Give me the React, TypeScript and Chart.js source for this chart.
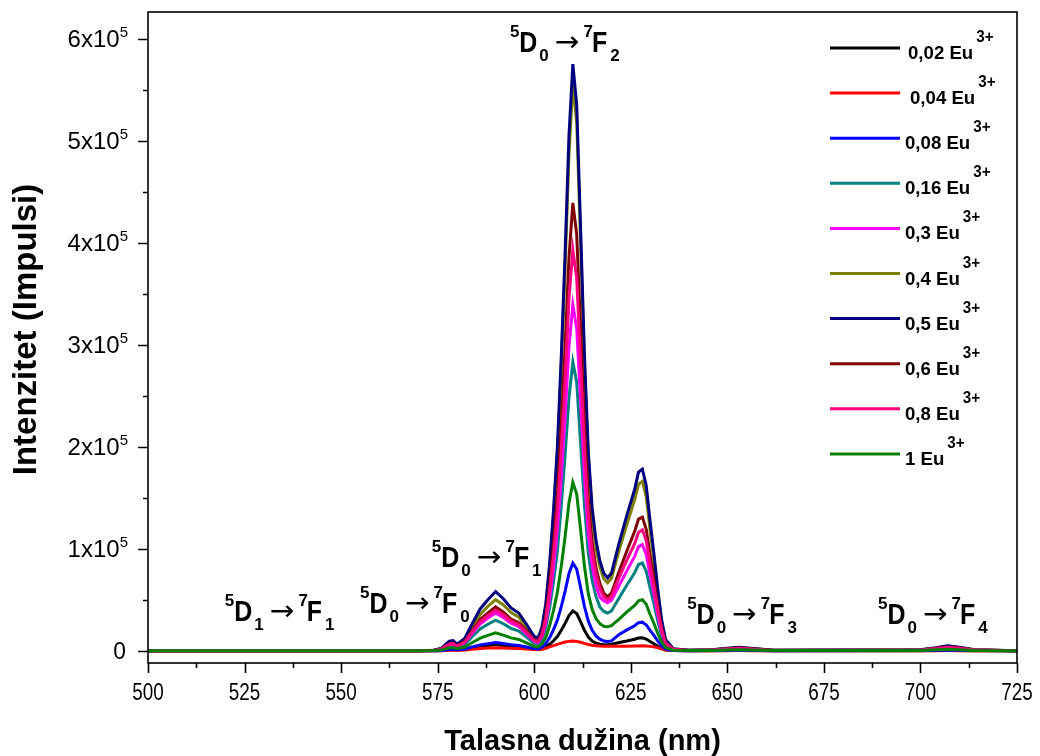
import { useEffect, useRef } from "react";
import { Chart, registerables } from "chart.js";

Chart.register(...registerables);

// Wavelength grid (nm)
const wavelength = [500, 570, 574, 576, 577, 578, 579, 580, 582, 584, 586, 588, 590, 592, 594, 596, 598, 600, 601, 602, 603, 604, 605, 606, 607, 608, 609, 610, 611, 612, 613, 614, 615, 616, 617, 618, 619, 620, 622, 624, 626, 627, 628, 629, 630, 631, 632, 633, 634, 636, 640, 646, 650, 653, 656, 662, 700, 704, 707, 710, 714, 725];

const eu002 = [0, 0, 0, 200, 500, 900, 1000, 700, 1200, 2800, 4200, 5200, 6000, 5300, 4300, 3800, 2700, 1400, 1200, 1800, 3500, 6300, 9800, 14000, 20000, 26800, 34500, 39000, 36500, 28500, 20000, 13500, 9500, 7500, 6500, 6000, 6000, 6300, 8000, 9500, 11300, 12500, 12700, 11500, 9000, 6800, 4300, 2200, 800, 150, 0, 100, 200, 300, 200, 0, 100, 200, 400, 300, 100, 0];
const eu004 = [0, 0, 0, 100, 300, 500, 600, 500, 800, 1500, 2200, 2700, 3000, 2800, 2500, 2300, 1800, 1200, 1000, 1500, 2500, 3800, 5000, 6300, 7500, 8500, 9200, 9500, 9200, 8300, 7200, 6200, 5500, 5000, 4700, 4500, 4400, 4400, 4400, 4500, 4600, 4700, 4800, 4600, 4300, 3800, 3000, 2000, 900, 200, 0, 0, 100, 200, 100, 0, 0, 100, 200, 100, 0, 0];
const eu008 = [0, 0, 100, 300, 800, 1300, 1400, 1000, 1700, 3800, 5700, 7000, 8000, 7200, 5900, 5200, 3600, 2000, 1800, 3500, 6900, 12900, 20700, 30000, 43200, 58500, 75700, 86000, 80000, 62000, 43500, 29000, 20000, 14500, 11300, 9500, 9000, 9700, 16000, 20500, 24500, 27500, 28000, 25500, 20000, 15000, 9400, 4700, 1700, 300, 100, 150, 400, 550, 400, 100, 150, 450, 750, 550, 150, 0];
const eu016 = [0, 0, 250, 1300, 3100, 4900, 5200, 3400, 6200, 14000, 21300, 26000, 30000, 26500, 22000, 19200, 13500, 7300, 6500, 11300, 22600, 42300, 68000, 98000, 142000, 192000, 248000, 283000, 263000, 204000, 143000, 96000, 69000, 53000, 43000, 38500, 37000, 39000, 52000, 64500, 76500, 84500, 86000, 78000, 61500, 46000, 29000, 14500, 5300, 1000, 250, 500, 1200, 1700, 1200, 250, 500, 1500, 2500, 1700, 500, 0];
const eu03 = [0, 0, 300, 1600, 3800, 6000, 6400, 4200, 7700, 17300, 26200, 32000, 37000, 32600, 27000, 23700, 16600, 9000, 8000, 13600, 27000, 51000, 81500, 118000, 170000, 230000, 298000, 339000, 316000, 245000, 171000, 115000, 83000, 64000, 52500, 49000, 47000, 49500, 64000, 78500, 92500, 102000, 104000, 94500, 74000, 55500, 35000, 17500, 6400, 1200, 300, 600, 1500, 2100, 1500, 300, 600, 1800, 3000, 2100, 600, 0];
const eu04 = [0, 0, 400, 2000, 5000, 8000, 8500, 5500, 10500, 23500, 35500, 43500, 50000, 45000, 37500, 33000, 23000, 12000, 11000, 21000, 43000, 82000, 132000, 192000, 277000, 375000, 487000, 555000, 518000, 401000, 280000, 188000, 133000, 101000, 82000, 70500, 66600, 71000, 99000, 124000, 148000, 163000, 166000, 151000, 118000, 88000, 55000, 27500, 10000, 1800, 400, 900, 2200, 3200, 2200, 400, 900, 2700, 4500, 3200, 900, 0];
const eu05 = [0, 0, 500, 2500, 6000, 9500, 10000, 6500, 12000, 27000, 41000, 50000, 58000, 51000, 42000, 37000, 26000, 14000, 12500, 23000, 46000, 86000, 138000, 200000, 288000, 390000, 505000, 575000, 535000, 415000, 290000, 195000, 140000, 108000, 88000, 76000, 71500, 76000, 106000, 133000, 158000, 175000, 178000, 162000, 127000, 95000, 60000, 30000, 11000, 2000, 500, 1000, 2500, 3500, 2500, 500, 1000, 3000, 5000, 3500, 1000, 0];
const eu06 = [0, 0, 400, 1800, 4500, 7000, 7500, 4800, 9000, 20000, 30500, 37000, 43000, 38000, 31000, 27500, 19500, 10500, 9500, 17500, 35000, 66000, 105000, 153000, 220000, 298000, 385000, 439000, 408000, 317000, 221000, 149000, 106000, 81000, 66000, 56500, 53000, 56500, 78000, 98000, 117000, 129000, 131000, 119000, 93500, 70000, 44000, 22000, 8000, 1500, 400, 800, 1900, 2600, 1900, 400, 800, 2200, 3700, 2600, 800, 0];
const eu08 = [0, 0, 350, 1700, 4200, 6500, 7000, 4500, 8300, 18600, 28300, 34500, 40000, 35200, 29000, 25500, 18000, 9700, 9000, 15700, 31500, 59000, 94000, 137000, 197000, 266000, 345000, 393000, 365000, 283000, 198000, 133000, 96000, 74500, 61000, 53000, 50000, 53000, 72000, 89000, 105000, 116000, 118600, 108000, 84500, 63000, 40000, 20000, 7300, 1400, 350, 700, 1700, 2400, 1700, 350, 700, 2100, 3500, 2400, 700, 0];
const eu1 = [0, 0, 150, 750, 1800, 2900, 3000, 2000, 3600, 8100, 12300, 15000, 17600, 15300, 12600, 11100, 7800, 4200, 3800, 6600, 13200, 24700, 39600, 57400, 82600, 112000, 145000, 165000, 153500, 119000, 83000, 56000, 40500, 31500, 26500, 24000, 23500, 24500, 31000, 38000, 44500, 49000, 50000, 45500, 35500, 26700, 16800, 8400, 3100, 600, 150, 300, 700, 1000, 700, 150, 300, 900, 1500, 1000, 300, 0];

const seriesData = [eu002, eu004, eu008, eu016, eu03, eu04, eu05, eu06, eu08, eu1];
const seriesNames = ["0,02", "0,04", "0,08", "0,16", "0,3", "0,4", "0,5", "0,6", "0,8", "1"];
const seriesColors = ["#000000", "#FF0000", "#0000FF", "#008080", "#FF00FF", "#808000", "#000080", "#800000", "#FF0080", "#008000"];

const xTicks = [500, 525, 550, 575, 600, 625, 650, 675, 700, 725];
const yTicks = [0, 100000, 200000, 300000, 400000, 500000, 600000];
const yTickMantissa = ["0", "1", "2", "3", "4", "5", "6"];

// Transition annotations: start wavelength, baseline intensity
const annX = [519.9, 554.9, 573.5, 593.7, 639.6, 689.0];
const annY = [29400, 37200, 82300, 587000, 26500, 26500];
const annLowerSub = ["1", "0", "0", "0", "0", "0"];
const annUpperSub = ["1", "0", "1", "2", "3", "4"];

const SANS = "'Liberation Sans', Arial, Helvetica, sans-serif";
const ARROW = "'DejaVu Sans', 'Liberation Sans', sans-serif";

function drawText(ctx: CanvasRenderingContext2D, s: string, x: number, y: number, font: string, align: CanvasTextAlign = "left", sx = 1) {
  ctx.save();
  ctx.font = font;
  ctx.textAlign = align;
  ctx.textBaseline = "alphabetic";
  ctx.translate(x, y);
  ctx.scale(sx, 1);
  ctx.fillText(s, 0, 0);
  ctx.restore();
}
function textW(ctx: CanvasRenderingContext2D, s: string, font: string, sx = 1) {
  ctx.save();
  ctx.font = font;
  const w = ctx.measureText(s).width * sx;
  ctx.restore();
  return w;
}

const decorPlugin = {
  id: "decor",
  afterDatasetsDraw(chart: any) {
    const ctx: CanvasRenderingContext2D = chart.ctx;
    const { left, right, top, bottom } = chart.chartArea;
    const xs = chart.scales.x;
    const ys = chart.scales.y;
    ctx.save();
    ctx.fillStyle = "#000";
    ctx.strokeStyle = "#000";
    ctx.lineWidth = 1.6;
    ctx.strokeRect(left, top, right - left, bottom - top);

    // tick marks
    ctx.beginPath();
    xTicks.forEach((v, i) => {
      const px = Math.round(xs.getPixelForValue(v)) + 0.5;
      ctx.moveTo(px, bottom);
      ctx.lineTo(px, bottom + 10);
      if (i < xTicks.length - 1) {
        const mv = (v + xTicks[i + 1]) / 2;
        const mx = Math.round(xs.getPixelForValue(mv)) + 0.5;
        ctx.moveTo(mx, bottom);
        ctx.lineTo(mx, bottom + 5);
      }
    });
    yTicks.forEach((v, i) => {
      const py = Math.round(ys.getPixelForValue(v)) + 0.5;
      ctx.moveTo(left, py);
      ctx.lineTo(left - 10, py);
      if (i < yTicks.length - 1) {
        const mv = (v + yTicks[i + 1]) / 2;
        const my = Math.round(ys.getPixelForValue(mv)) + 0.5;
        ctx.moveTo(left, my);
        ctx.lineTo(left - 5, my);
      }
    });
    ctx.stroke();

    // tick labels
    const xTickFont = `23px ${SANS}`;
    xTicks.forEach((v) => {
      const px = xs.getPixelForValue(v);
      drawText(ctx, String(v), px, bottom + 37, xTickFont, "center", 0.82);
    });
    const yTickFont = `24px ${SANS}`;
    const supFont = `15px ${SANS}`;
    yTicks.forEach((v, i) => {
      const py = ys.getPixelForValue(v);
      const rx = left - 20;
      if (v === 0) {
        drawText(ctx, "0", rx - 2, py + 8, yTickFont, "right", 0.95);
      } else {
        const w5 = textW(ctx, "5", supFont);
        drawText(ctx, "5", rx, py - 2, supFont, "right");
        drawText(ctx, yTickMantissa[i] + "x10", rx - w5, py + 8, yTickFont, "right", 1.0);
      }
    });

    // axis titles
    drawText(ctx, "Talasna dužina (nm)", (left + right) / 2, 750, `bold 29px ${SANS}`, "center", 1.0);
    ctx.save();
    ctx.translate(26, (top + bottom) / 2 - 8);
    ctx.rotate(-Math.PI / 2);
    drawText(ctx, "Intenzitet (Impulsi)", 0, 10, `bold 33px ${SANS}`, "center", 1.0);
    ctx.restore();

    // legend
    const legFont = `bold 19px ${SANS}`;
    const legSup = `bold 16px ${SANS}`;
    seriesNames.forEach((n, i) => {
      const y = 48 + i * 45.1;
      ctx.strokeStyle = seriesColors[i];
      ctx.lineWidth = 3;
      ctx.beginPath();
      ctx.moveTo(830, y);
      ctx.lineTo(900, y);
      ctx.stroke();
      const tx = 905 + (i === 0 ? 3 : i === 1 ? 5 : 0);
      const label = `${n} Eu`;
      drawText(ctx, label, tx, y + 11, legFont, "left", 0.98);
      const w = textW(ctx, label, legFont, 0.98);
      drawText(ctx, "3+", tx + w + 3, y - 6, legSup, "left", 0.95);
    });

    // transition annotations
    const mainFont = `bold 29px ${SANS}`;
    const smallFont = `bold 17px ${SANS}`;
    const arrowFont = `28px ${ARROW}`;
    const msx = 0.86;
    annX.forEach((nm, i) => {
      let x = xs.getPixelForValue(nm);
      const b = ys.getPixelForValue(annY[i]);
      drawText(ctx, "5", x, b - 15, smallFont);
      x += textW(ctx, "5", smallFont);
      drawText(ctx, "D", x, b, mainFont, "left", msx);
      x += textW(ctx, "D", mainFont, msx) + 2;
      drawText(ctx, annLowerSub[i], x, b + 9, smallFont);
      x += textW(ctx, annLowerSub[i], smallFont) + 6;
      drawText(ctx, "\u2192", x, b - 1, arrowFont, "left", 1.05);
      x += textW(ctx, "\u2192", arrowFont, 1.05) + 4;
      drawText(ctx, "7", x, b - 15, smallFont);
      x += textW(ctx, "7", smallFont) - 1;
      drawText(ctx, "F", x, b, mainFont, "left", msx);
      x += textW(ctx, "F", mainFont, msx) + 3;
      drawText(ctx, annUpperSub[i], x, b + 9, smallFont);
    });
    ctx.restore();
  },
};

export default function App() {
  const ref = useRef<HTMLCanvasElement>(null);
  useEffect(() => {
    if (!ref.current) return;
    const datasets = seriesData.map((vals, i) => ({
      label: seriesNames[i] + " Eu3+",
      data: wavelength.map((w, j) => ({ x: w, y: vals[j] })),
      borderColor: seriesColors[i],
      backgroundColor: seriesColors[i],
      borderWidth: 3,
      pointRadius: 0,
      tension: 0,
      fill: false,
      order: seriesData.length - 1 - i,
    }));
    const chart = new Chart(ref.current, {
      type: "line",
      data: { datasets },
      options: {
        responsive: false,
        animation: false,
        devicePixelRatio: 1,
        layout: { padding: { left: 148, right: 23, top: 12, bottom: 93 } },
        plugins: { legend: { display: false }, tooltip: { enabled: false } },
        scales: {
          x: { type: "linear", min: 500, max: 725, display: false },
          y: { type: "linear", min: -12000, max: 626000, display: false },
        },
      },
      plugins: [decorPlugin],
    });
    return () => chart.destroy();
  }, []);
  return (
    <canvas
      ref={ref}
      width={1040}
      height={756}
      style={{ display: "block", position: "absolute", left: 0, top: 0 }}
    />
  );
}
